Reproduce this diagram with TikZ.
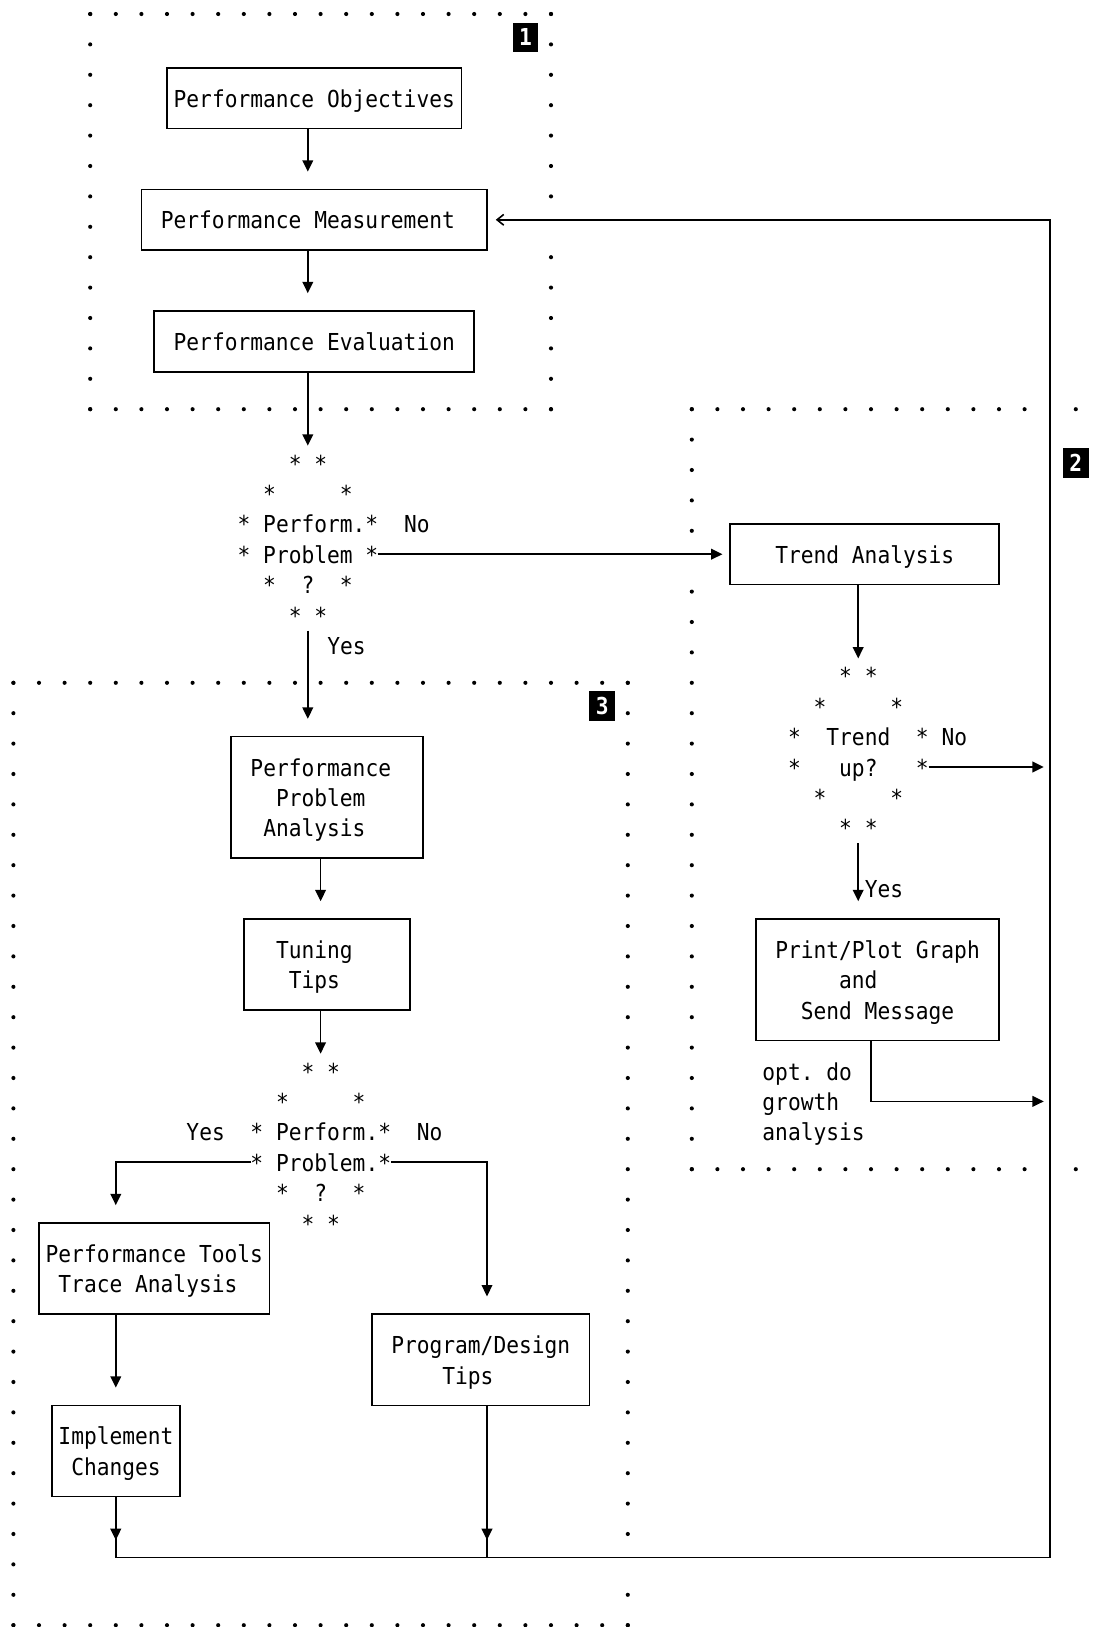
\documentclass[tikz,border=0pt]{standalone}
\usepackage{fontspec}
\usetikzlibrary{arrows.meta}
\newfontfamily\asciifont{DejaVu Sans Mono}[FakeStretch=0.91]
\newcommand\asciitext{\asciifont\fontsize{17.5}{22.8}\selectfont\frenchspacing}
\tikzset{
  hdots/.style={line width=3.1pt, line cap=round, dash pattern=on 0pt off 19.2pt},
  vdots/.style={line width=3.1pt, line cap=round, dash pattern=on 0pt off 22.8pt},
  box/.style 2 args={draw, line width=1.2pt, inner sep=0pt, minimum width=#1*9.6pt, minimum height=#2*22.8pt},
  txt/.style={inner sep=0pt, anchor=base west, align=left, font=\asciitext},
  line/.style={line width=1.2pt},
  flow/.style={line width=1.2pt, -{Triangle[width=8pt,length=8.5pt]}},
  intobox/.style={flow, shorten >=12.75pt},
  back/.style={line width=1.2pt, -{Straight Barb[length=5pt,width=8pt]}, shorten >=6pt},
  tag/.style={fill=black, text=white, inner sep=0pt, minimum width=19.2pt, minimum height=22.2pt,
    font=\asciifont\bfseries\fontsize{17.5}{20}\selectfont}
}
\begin{document}
\begin{tikzpicture}[x=9.6pt, y=-22.8pt]
\path[use as bounding box, fill=white] (-1.047,-0.4605) rectangle (84.5,53.06);

% dotted frames
\draw[hdots] (6,0) -- (42.05,0);
\draw[hdots] (6,13) -- (42.05,13);
\draw[vdots] (6,0) -- (6,13.02);
\draw[vdots] (42,0) -- (42,6.02);
\draw[vdots] (42,8) -- (42,13.02);

\draw[hdots] (53,13) -- (79.05,13);
\draw[hdots] (83,13) -- (83.05,13);
\draw[hdots] (53,38) -- (79.05,38);
\draw[hdots] (83,38) -- (83.05,38);
\draw[vdots] (53,13) -- (53,17.02);
\draw[vdots] (53,19) -- (53,38.02);

\draw[hdots] (0,22) -- (48.05,22);
\draw[hdots] (0,53) -- (48.05,53);
\draw[vdots] (0,22) -- (0,53.02);
\draw[vdots] (48,22) -- (48,50.02);
\draw[vdots] (48,52) -- (48,53.02);

\node[tag] (tagA) at (40,0.77) {1};
\node[tag] (tagB) at (83,14.77) {2};
\node[tag] (tagC) at (46,22.77) {3};

% boxes
\node[box={23}{2}] (obj) at (23.5,2.77) {};
\node[txt] (objT) at (12.5,3.07) {Performance Objectives};
\node[box={27}{2}] (mea) at (23.5,6.77) {};
\node[txt] (meaT) at (11.5,7.07) {Performance Measurement};
\node[box={25}{2}] (eva) at (23.5,10.77) {};
\node[txt] (evaT) at (12.5,11.07) {Performance Evaluation};
\node[box={21}{2}] (trend) at (66.5,17.77) {};
\node[txt] (trendT) at (59.5,18.07) {Trend Analysis};
\node[box={15}{4}] (ppa) at (24.5,25.77) {};
\node[txt] (ppaT) at (18.5,27.07) {Performance\\~~Problem\\~Analysis};
\node[box={13}{3}] (tun) at (24.5,31.27) {};
\node[txt] (tunT) at (20.5,32.07) {Tuning\\~Tips};
\node[box={19}{4}] (print) at (67.5,31.77) {};
\node[txt] (printT) at (59.5,33.07) {Print/Plot Graph\\~~~~~and\\~~Send Message};
\node[box={18}{3}] (pt) at (11,41.27) {};
\node[txt] (ptT) at (2.5,42.07) {Performance Tools\\~Trace Analysis};
\node[box={10}{3}] (impl) at (8,47.27) {};
\node[txt] (implT) at (3.5,48.07) {Implement\\~Changes};
\node[box={17}{3}] (prog) at (36.5,44.27) {};
\node[txt] (progT) at (29.5,45.07) {Program/Design\\~~~~Tips};
\node[txt] (optT) at (58.5,37.07) {opt. do\\growth\\analysis};

% decisions
\node[txt] (dPerf) at (17.5,20.07) {~~~~*~*\\~~*~~~~~*\\{*}~Perform.*\\{*}~Problem~*\\~~*~~?~~*\\~~~~*~*};
\node[txt] (dTrend) at (60.5,27.07) {~~~~*~*\\~~*~~~~~*\\{*}~~Trend~~*\\{*}~~~up?~~~*\\~~*~~~~~*\\~~~~*~*};
\node[txt] (dProb) at (18.5,40.07) {~~~~*~*\\~~*~~~~~*\\{*}~Perform.*\\{*}~Problem.*\\~~*~~?~~*\\~~~~*~*};
\node[txt] (noA) at (30.5,17.07) {No};
\node[txt] (yesA) at (24.5,21.07) {Yes};
\node[txt] (noC) at (72.5,24.07) {No};
\node[txt] (yesC) at (66.5,29.07) {Yes};
\node[txt] (yesB) at (13.5,37.07) {Yes};
\node[txt] (noB) at (31.5,37.07) {No};

\coordinate (cMain) at (23,0);
\coordinate (cTune) at (24,0);
\coordinate (cPerfTop) at (23,14.2);
\coordinate (cPerfYes) at (23,20.28);
\coordinate (cPerfNo) at (28.45,17.77);
\coordinate (cTrendTop) at (66,21.2);
\coordinate (cTrendYes) at (66,27.28);
\coordinate (cTrendNo) at (71.5,24.77);
\coordinate (cPrintTurn) at (67,35.77);
\coordinate (cProbTop) at (24,34.2);
\coordinate (cProbYes) at (18.6,37.77);
\coordinate (cProbYesTurn) at (8,37.77);
\coordinate (cProbNo) at (29.5,37.77);
\coordinate (cProbNoTurn) at (37,37.77);
\coordinate (fbTop) at (81,6.77);
\coordinate (fbBot) at (81,50.77);
\coordinate (implTip) at (8,50.2);
\coordinate (progTip) at (37,50.2);

% connectors
\draw[intobox] (obj.south -| cMain) -- (mea.north -| cMain);
\draw[intobox] (mea.south -| cMain) -- (eva.north -| cMain);
\draw[flow] (eva.south -| cMain) -- (cPerfTop);
\draw[intobox] (cPerfYes) -- (ppa.north -| cPerfYes);
\draw[flow, shorten >=5.2pt] (cPerfNo) -- (trend.west);
\draw[intobox] (ppa.south -| cTune) -- (tun.north -| cTune);
\draw[flow] (tun.south -| cTune) -- (cProbTop);
\draw[intobox] (cProbYes) -- (cProbYesTurn) -- (pt.north -| cProbYesTurn);
\draw[intobox] (cProbNo) -- (cProbNoTurn) -- (prog.north -| cProbNoTurn);
\draw[intobox] (pt.south -| impl) -- (impl.north);
\draw[flow] (trend.south -| cTrendTop) -- (cTrendTop);
\draw[intobox] (cTrendYes) -- (print.north -| cTrendYes);
\draw[flow, shorten >=4.8pt] (cTrendNo) -- (cTrendNo -| fbTop);
\draw[flow, shorten >=4.8pt] (print.south -| cPrintTurn) -- (cPrintTurn) -- (cPrintTurn -| fbTop);

\draw[back] (impl.south) |- (fbBot) -- (fbTop) -- (mea.east);
\draw[flow] (impl.south) -- (implTip);
\draw[line] (prog.south -| progTip) -- (progTip |- fbBot);
\draw[flow] (prog.south -| progTip) -- (progTip);
\end{tikzpicture}
\end{document}
